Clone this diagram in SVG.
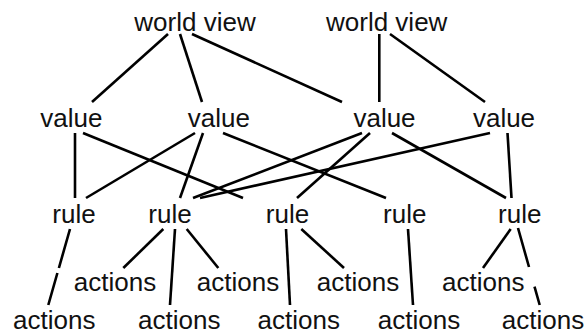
<svg xmlns="http://www.w3.org/2000/svg" width="588" height="335" viewBox="0 0 588 335">
<style>
text{font-family:"Liberation Sans",Arial,Helvetica,sans-serif;font-size:26px;fill:#111;text-anchor:middle}
.e path{stroke:#000;stroke-width:2.6;fill:none}
</style>
<rect width="588" height="335" fill="#fff"/>
<g class="e" id="connectors">
<path d="M168,34 L92,102"/>
<path d="M180,34 L202,102"/>
<path d="M192,34 L342,102"/>
<path d="M379.3,34 L379.3,102"/>
<path d="M390,34 L485,102"/>
<path d="M75,133 L75,198"/>
<path d="M83,133 L243,198"/>
<path d="M195,133 L86,198"/>
<path d="M203,133 L180,198"/>
<path d="M223,133 L386,198"/>
<path d="M362,133 L193,198"/>
<path d="M370,133 L297,198"/>
<path d="M392,133 L506,198"/>
<path d="M490,133 L200,198"/>
<path d="M507.5,133 L511.5,198"/>
<path d="M70,229 L58.9,268 M57.4,273 L48.3,305"/>
<path d="M163.3,229 L123.3,268"/>
<path d="M175,229 L170,305"/>
<path d="M186.7,229 L218.3,268"/>
<path d="M286,229 L290,305"/>
<path d="M301.3,229 L344,268"/>
<path d="M408,229 L413,305"/>
<path d="M510.7,229 L483,268"/>
<path d="M518,228 L529,267 M534.5,286.7 L539.7,305"/>
</g>
<g id="wv1"><text x="195" y="31">world view</text></g>
<g id="wv2"><text x="386.7" y="31">world view</text></g>
<g id="value1"><text x="71.3" y="126.7">value</text></g>
<g id="value2"><text x="218.8" y="126.7">value</text></g>
<g id="value3"><text x="384.5" y="126.7">value</text></g>
<g id="value4"><text x="504" y="126.7">value</text></g>
<g id="rule1"><text x="74" y="223">rule</text></g>
<g id="rule2"><text x="170" y="223">rule</text></g>
<g id="rule3"><text x="287.5" y="223">rule</text></g>
<g id="rule4"><text x="404.7" y="223">rule</text></g>
<g id="rule5"><text x="519.7" y="223">rule</text></g>
<g id="actA"><text x="115" y="291">actions</text></g>
<g id="actB"><text x="238" y="291">actions</text></g>
<g id="actC"><text x="358" y="291">actions</text></g>
<g id="actD"><text x="483.3" y="291">actions</text></g>
<g id="act1"><text x="54.2" y="329.3">actions</text></g>
<g id="act2"><text x="179.2" y="329.3">actions</text></g>
<g id="act3"><text x="298.8" y="329.3">actions</text></g>
<g id="act4"><text x="419" y="329.3">actions</text></g>
<g id="act5"><text x="543" y="329.3">actions</text></g>
</svg>
